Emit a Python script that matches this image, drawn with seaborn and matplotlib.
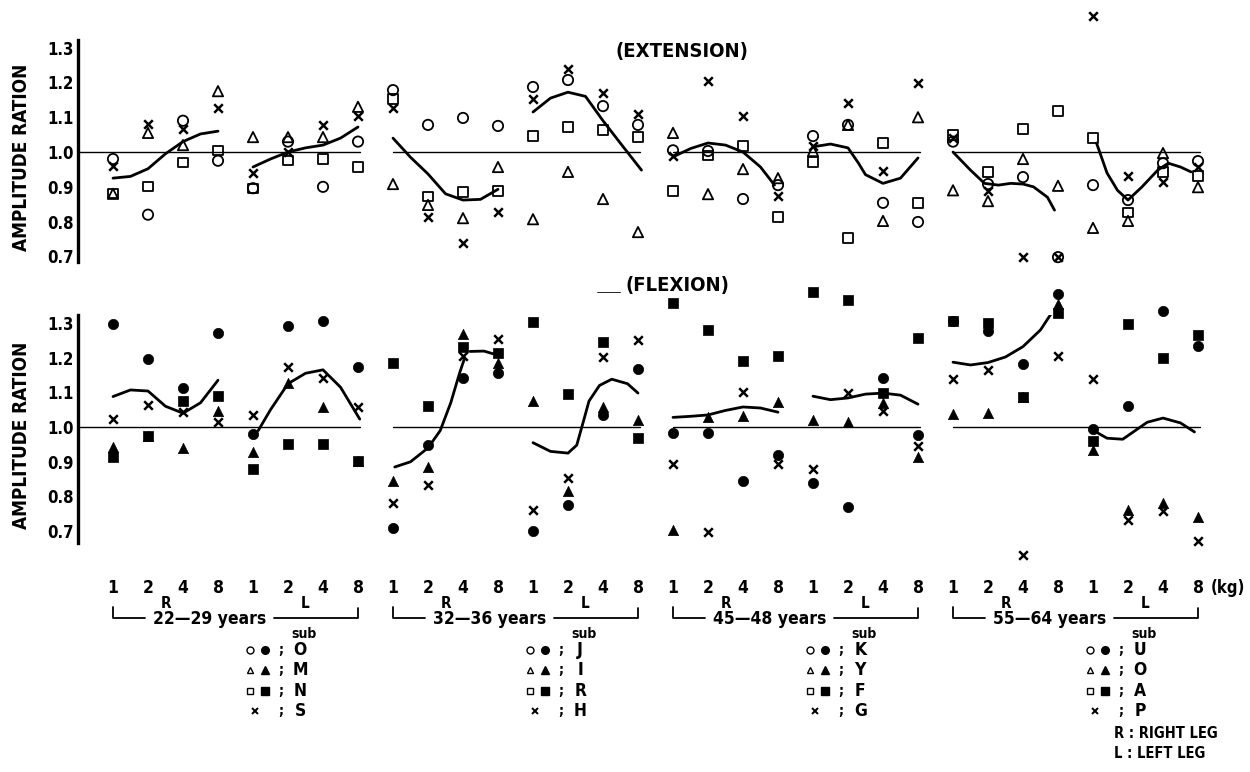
import matplotlib
matplotlib.use("Agg")
import matplotlib.pyplot as plt
import matplotlib.transforms as mtransforms
import seaborn as sns
import pandas as pd

# Loads (kg) for each of the 32 slots: 4 age groups x (right leg, left leg) x 4 loads
LOADS = ["1", "2", "4", "8"] * 8
AGE_GROUPS = ["22\u201429 years", "32\u201436 years", "45\u201448 years", "55\u201464 years"]
SUBJECTS = [["O", "M", "N", "S"], ["J", "I", "R", "H"], ["K", "Y", "F", "G"], ["U", "O", "A", "P"]]
Y_TICKS = [0.7, 0.8, 0.9, 1.0, 1.1, 1.2, 1.3]

# Extension amplitude ratios (open symbols)
ext_circle = [0.98, 0.82, 1.09, 0.975, 0.896, 1.03, 0.90, 1.03,
              1.178, 1.078, 1.098, 1.075, 1.187, 1.207, 1.132, 1.078,
              1.005, 1.003, 0.865, 0.905, 1.046, 1.078, 0.854, 0.799,
              1.03, 0.908, 0.928, 0.698, 0.905, 0.862, 0.968, 0.974]
ext_triangle = [0.88, 1.055, 1.02, 1.175, 1.043, 1.043, 1.043, 1.13,
                0.908, 0.848, 0.81, 0.957, 0.807, 0.943, 0.865, 0.77,
                1.055, 0.879, 0.951, 0.925, 1.003, 1.078, 0.802, 1.10,
                0.89, 0.859, 0.98, 0.903, 0.782, 0.802, 0.997, 0.899]
ext_square = [0.88, 0.90, 0.97, 1.005, 0.896, 0.975, 0.98, 0.957,
              1.152, 0.873, 0.885, 0.888, 1.046, 1.072, 1.063, 1.043,
              0.888, 0.99, 1.017, 0.813, 0.971, 0.753, 1.026, 0.854,
              1.049, 0.943, 1.066, 1.118, 1.04, 0.827, 0.943, 0.931]
ext_cross = [0.96, 1.08, 1.065, 1.127, 0.94, 1.0, 1.078, 1.103,
             1.127, 0.813, 0.738, 0.828, 1.152, 1.238, 1.17, 1.109,
             0.99, 1.204, 1.103, 0.873, 1.017, 1.141, 0.945, 1.198,
             1.04, 0.888, 0.698, 0.698, 1.39, 0.931, 0.914, 0.957]

# Flexion amplitude ratios (filled symbols)
flex_circle = [1.297, 1.196, 1.112, 1.27, 0.98, 1.291, 1.305, 1.173,
               0.709, 0.948, 1.141, 1.156, 0.70, 0.775, 1.035, 1.167,
               0.983, 0.983, 0.844, 0.919, 0.839, 0.769, 1.141, 0.977,
               1.305, 1.277, 1.182, 1.383, 0.994, 1.06, 1.334, 1.233]
flex_triangle = [0.942, 0.975, 0.94, 1.046, 0.928, 1.127, 1.058, 0.902,
                 0.844, 0.885, 1.268, 1.184, 1.075, 0.816, 1.058, 1.02,
                 0.703, 1.029, 1.032, 1.072, 1.02, 1.014, 1.069, 0.914,
                 1.037, 1.04, 1.086, 1.354, 0.934, 0.761, 0.781, 0.74]
flex_square = [0.914, 0.974, 1.075, 1.089, 0.879, 0.951, 0.951, 0.902,
               1.184, 1.06, 1.23, 1.213, 1.303, 1.095, 1.245, 0.968,
               1.357, 1.28, 1.19, 1.205, 1.389, 1.366, 1.098, 1.256,
               1.305, 1.30, 1.086, 1.329, 0.96, 1.297, 1.199, 1.265]
flex_cross = [1.023, 1.063, 1.043, 1.014, 1.035, 1.173, 1.141, 1.058,
              0.78, 0.833, 1.205, 1.254, 0.761, 0.853, 1.202, 1.251,
              0.893, 0.697, 1.101, 0.893, 0.879, 1.098, 1.046, 0.945,
              1.138, 1.164, 0.631, 1.205, 1.138, 0.732, 0.758, 0.671]

# Hand-drawn trend curves (slot position, ratio)
ext_curve_x = [[0, 0.5, 1, 1.5, 2, 2.5, 3],
               [4, 4.5, 5, 5.5, 6, 6.5, 7],
               [8, 8.5, 9, 9.5, 10, 10.5, 11],
               [12, 12.5, 13, 13.5, 14, 14.5, 15.1],
               [16, 16.5, 17, 17.5, 18, 18.5, 18.9],
               [20, 20.5, 21, 21.3, 21.5, 22, 22.5, 23],
               [24, 24.5, 24.9, 25.3, 25.65, 26.0, 26.3, 26.7, 26.9],
               [28.1, 28.4, 28.7, 29.0, 29.4, 29.85, 30.15, 30.5, 30.8]]
ext_curve_y = [[0.925, 0.93, 0.952, 0.995, 1.03, 1.052, 1.06],
               [0.957, 0.98, 1.0, 1.012, 1.02, 1.04, 1.072],
               [1.04, 0.985, 0.937, 0.88, 0.862, 0.864, 0.893],
               [1.115, 1.155, 1.172, 1.16, 1.09, 1.025, 0.948],
               [0.986, 1.01, 1.026, 1.02, 1.0, 0.957, 0.905],
               [1.015, 1.023, 1.012, 0.968, 0.935, 0.91, 0.925, 0.983],
               [1.0, 0.948, 0.91, 0.905, 0.91, 0.908, 0.9, 0.87, 0.833],
               [1.026, 0.94, 0.89, 0.862, 0.9, 0.948, 0.968, 0.957, 0.943]]
flex_curve_x = [[0, 0.5, 1, 1.5, 2, 2.5, 3],
                [4.15, 4.5, 5, 5.5, 6, 6.5, 7.05],
                [8.05, 8.5, 9, 9.35, 9.65, 9.9, 10.05],
                [10.2, 10.6, 11.0],
                [12, 12.5, 13, 13.25, 13.45, 13.6, 13.9, 14.25, 14.7, 15.0],
                [16, 16.5, 17, 17.5, 18, 18.5, 19],
                [20, 20.5, 21, 21.5, 22, 22.5, 23],
                [24, 24.5, 25, 25.5, 26, 26.5, 27],
                [28, 28.4, 28.85, 29.15, 29.55, 30, 30.5, 30.9]]
flex_curve_y = [[1.088, 1.107, 1.104, 1.06, 1.04, 1.07, 1.135],
                [0.99, 1.05, 1.125, 1.155, 1.165, 1.115, 1.023],
                [0.885, 0.9, 0.94, 0.99, 1.07, 1.155, 1.2],
                [1.218, 1.219, 1.207],
                [0.955, 0.93, 0.925, 0.948, 1.02, 1.075, 1.12, 1.138, 1.125, 1.098],
                [1.028, 1.031, 1.035, 1.048, 1.058, 1.055, 1.043],
                [1.089, 1.079, 1.084, 1.095, 1.098, 1.092, 1.066],
                [1.187, 1.179, 1.186, 1.202, 1.232, 1.28, 1.357],
                [0.991, 0.968, 0.965, 0.986, 1.014, 1.026, 1.012, 0.986]]

# Styling
sns.set_style("white")
plt.rcParams["font.family"] = ["DejaVu Sans"]
plt.rcParams["font.stretch"] = "condensed"
plt.rcParams["font.weight"] = "bold"
for key in ["text.color", "axes.labelcolor", "xtick.color", "ytick.color"]:
    plt.rcParams[key] = "black"

W, H = 1250, 772
fig = plt.figure(figsize=(12.5, 7.72), dpi=100)
fig.patch.set_facecolor("white")

ax_top = fig.add_axes([78 / W, 1 - 262 / H, 1141 / W, 222 / H])
ax_bot = fig.add_axes([78 / W, 1 - 543 / H, 1141 / W, 228 / H])


def draw_panel(ax, values, filled, curves_x, curves_y, ylim):
    slots = list(range(len(LOADS)))
    markers = ["o", "^", "s", "x"]
    sizes = [55, 55, 45, 38]
    for vals, m, s in zip(values, markers, sizes):
        df = pd.DataFrame({"slot": slots, "ratio": vals})
        if m == "x":
            sns.scatterplot(data=df, x="slot", y="ratio", marker="x", s=s, color="black",
                            linewidth=1.8, clip_on=False, zorder=3, ax=ax)
        elif filled:
            sns.scatterplot(data=df, x="slot", y="ratio", marker=m, s=s, color="black",
                            edgecolor="black", linewidth=0.5, clip_on=False, zorder=3, ax=ax)
        else:
            sns.scatterplot(data=df, x="slot", y="ratio", marker=m, s=s, color="black",
                            facecolor="none", edgecolor="black", linewidth=1.3,
                            clip_on=False, zorder=3, ax=ax)
    for cx, cy in zip(curves_x, curves_y):
        sns.lineplot(x=cx, y=cy, color="black", linewidth=2.0, sort=False,
                     estimator=None, ax=ax, zorder=2)
    # reference line at 1.0 for each age group
    for g in range(4):
        start = -1 if g == 0 else 8 * g
        ax.plot([start, 8 * g + 7.05], [1.0, 1.0], color="black", lw=1.0, zorder=1)

    ax.set_xlim(-1, 31.6)
    ax.set_ylim(*ylim)
    ax.set_yticks(Y_TICKS)
    ax.set_yticklabels([f"{t:.1f}" for t in Y_TICKS], fontsize=12, fontweight="bold")
    ax.tick_params(axis="y", direction="in", length=5, width=1.5, pad=3)
    for side in ["top", "right", "bottom"]:
        ax.spines[side].set_visible(False)
    ax.spines["left"].set_linewidth(2.4)
    ax.spines["left"].set_color("black")
    ax.set_xlabel("")
    ax.set_ylabel("AMPLITUDE RATION", fontsize=13.6, fontweight="bold")
    ax.yaxis.set_label_coords(-0.041, 0.47)


draw_panel(ax_top, [ext_circle, ext_triangle, ext_square, ext_cross], False,
           ext_curve_x, ext_curve_y, (0.684, 1.322))
draw_panel(ax_bot, [flex_circle, flex_triangle, flex_square, flex_cross], True,
           flex_curve_x, flex_curve_y, (0.666, 1.323))

ax_top.set_xticks([])
ax_bot.set_xticks(range(len(LOADS)))
ax_bot.set_xticklabels(LOADS, fontsize=12.5, fontweight="bold")
ax_bot.tick_params(axis="x", length=0, pad=26)

# Panel titles
fig.text(682 / W, 1 - 52 / H, "(EXTENSION)", ha="center", va="center", fontsize=14.5, fontweight="bold")
fig.text(677 / W, 1 - 285 / H, "(FLEXION)", ha="center", va="center", fontsize=14.5, fontweight="bold")
fig.add_artist(plt.Line2D([597 / W, 620 / W], [1 - 292 / H, 1 - 292 / H], color="black", lw=0.6))
fig.text(1228 / W, 1 - 588 / H, "(kg)", ha="center", va="center", fontsize=12, fontweight="bold")

# Group brackets and subject keys under the flexion panel
blend = mtransforms.blended_transform_factory(ax_bot.transData, fig.transFigure)


def fy(px):
    return 1 - px / H


row_y = [650, 670, 691, 711]
for g in range(4):
    b = 8 * g
    ax_bot.text(b + 1.5, fy(604), "R", transform=blend, ha="center", va="center", fontsize=11)
    ax_bot.text(b + 5.5, fy(604), "L", transform=blend, ha="center", va="center", fontsize=11)
    ax_bot.plot([b, b, b + 0.92], [fy(607), fy(618), fy(618)], transform=blend,
                color="black", lw=1.3, clip_on=False)
    ax_bot.plot([b + 4.6, b + 7, b + 7], [fy(618), fy(618), fy(608)], transform=blend,
                color="black", lw=1.3, clip_on=False)
    ax_bot.text(b + 2.75, fy(619), AGE_GROUPS[g], transform=blend, ha="center", va="center",
                fontsize=12.5)
    ax_bot.text(b + 5.45, fy(634), "sub", transform=blend, ha="center", va="center", fontsize=10)
    open_filled = [("o", "o"), ("^", "^"), ("s", "s")]
    for r, (mo, mf) in enumerate(open_filled):
        ax_bot.plot([b + 3.9], [fy(row_y[r])], marker=mo, ms=5, mfc="none", mec="black", mew=1.0,
                    transform=blend, clip_on=False, ls="none")
        ax_bot.plot([b + 4.35], [fy(row_y[r])], marker=mf, ms=5.5, mfc="black", mec="black",
                    transform=blend, clip_on=False, ls="none")
    ax_bot.plot([b + 4.05], [fy(row_y[3])], marker="x", ms=5, mec="black", mew=1.4,
                transform=blend, clip_on=False, ls="none")
    for r in range(4):
        ax_bot.text(b + 4.78, fy(row_y[r]), ";", transform=blend, ha="center", va="center",
                    fontsize=10)
        ax_bot.text(b + 5.35, fy(row_y[r]), SUBJECTS[g][r], transform=blend, ha="center",
                    va="center", fontsize=12.5)

ax_bot.text(28.6, fy(733), "R : RIGHT LEG", transform=blend, ha="left", va="center", fontsize=10.5)
ax_bot.text(28.6, fy(753), "L : LEFT LEG", transform=blend, ha="left", va="center", fontsize=10.5)

fig.savefig("out.png", dpi=100, facecolor="white")
